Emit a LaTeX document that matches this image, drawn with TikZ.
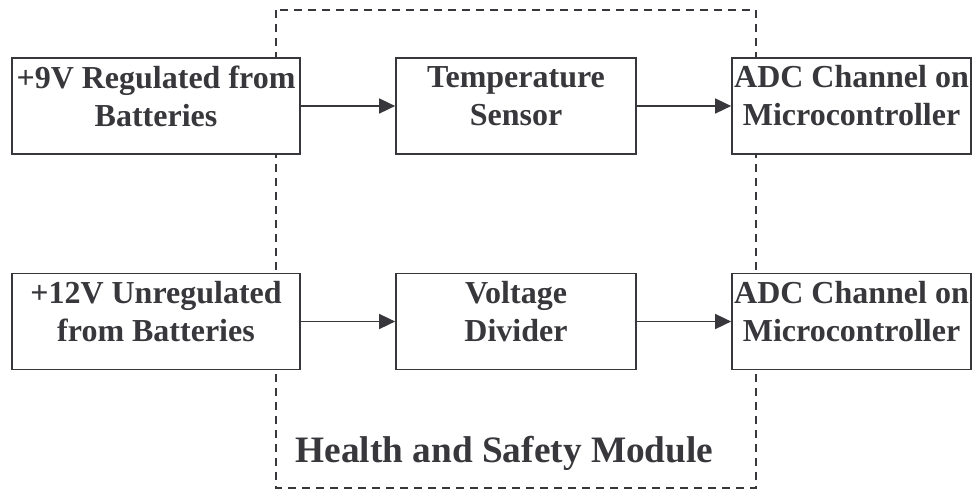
\documentclass[tikz,border=0pt]{standalone}
\usepackage{fontspec}
\setmainfont{Liberation Serif}
\usetikzlibrary{arrows.meta,calc}
\definecolor{ink}{RGB}{56,56,60}
\tikzset{
  box/.style={draw=ink, fill=white, line width=1.7pt, minimum width=#1, minimum height=96pt, inner sep=0pt, anchor=center},
  boxtext/.style={text=ink, font=\fontsize{32}{38}\selectfont\bfseries, align=center, inner sep=0pt},
  conn/.style={draw=ink, line width=1.6pt, -{Triangle[length=16pt,width=15pt]}},
  module/.style={draw=ink, line width=1.5pt, dash pattern=on 8pt off 6pt},
}
\begin{document}
\begin{tikzpicture}[x=1pt,y=-1pt]
\useasboundingbox (0,0) rectangle (972,491);
\draw[module] (276,10) rectangle (756,488);
\node[box=288pt] (b1) at (156,106) {};
\node[box=240pt] (b2) at (516,106) {};
\node[box=239pt] (b3) at (851.5,106) {};
\node[box=288pt] (b4) at (156,321.5) {};
\node[box=240pt] (b5) at (516,321.5) {};
\node[box=239pt] (b6) at (851.5,321.5) {};
\node[boxtext] (t1) at ($(b1.center)+(0,-10)$) {+9V Regulated from\\Batteries};
\node[boxtext] (t2) at ($(b2.center)+(0,-10)$) {Temperature\\Sensor};
\node[boxtext] (t3) at ($(b3.center)+(0,-10)$) {ADC Channel on\\Microcontroller};
\node[boxtext] (t4) at ($(b4.center)+(0,-10)$) {+12V Unregulated\\from Batteries};
\node[boxtext] (t5) at ($(b5.center)+(0,-10)$) {Voltage\\Divider};
\node[boxtext] (t6) at ($(b6.center)+(0,-10)$) {ADC Channel on\\Microcontroller};
\node[text=ink, font=\fontsize{37.3}{42}\selectfont\bfseries, anchor=base, inner sep=0pt] (lbl) at (504.5,462) {Health and Safety Module};
\draw[conn] (b1.east) -- (b2.west);
\draw[conn] (b2.east) -- (b3.west);
\draw[conn] (b4.east) -- (b5.west);
\draw[conn] (b5.east) -- (b6.west);
\end{tikzpicture}
\end{document}
